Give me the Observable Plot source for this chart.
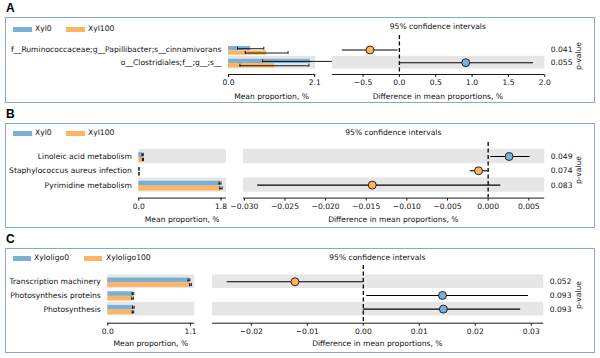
<!DOCTYPE html>
<html><head><meta charset="utf-8">
<script src="https://cdn.jsdelivr.net/npm/d3@7"></script>
<script src="https://cdn.jsdelivr.net/npm/@observablehq/plot@0.6"></script>
<style>
body{margin:0;background:#fff;}
#root{position:relative;width:600px;height:358px;overflow:hidden;font-family:"DejaVu Sans",sans-serif;font-size:7.6px;color:#111;}
.abs{position:absolute;white-space:nowrap;line-height:1;}
.box{position:absolute;border:1.5px solid #8aa5d4;box-sizing:border-box;}
.letter{position:absolute;font-family:"Liberation Sans",Arial,sans-serif;font-weight:bold;font-size:12px;line-height:12px;color:#000;}
svg{position:absolute;}
</style></head><body><div id="root"></div>
<script>
// ---------- Panel A data ----------
const groupsA = ["Xyl0", "Xyl100"];
const featuresA = ["f__Ruminococcaceae;g__Papillibacter;s__cinnamivorans", "o__Clostridiales;f__;g__;s__"];
const mean0A = [0.54, 2.00];
const sd0A = [0.32, 1.17];
const mean1A = [0.93, 1.12];
const sd1A = [0.52, 0.84];
const diffA = [-0.405, 0.913];
const ciLoA = [-0.785, 0.003];
const ciHiA = [-0.02, 1.845];
const pvalA = [0.041, 0.055];
const barTicksA = [0, 2.1];
const diffTicksA = [-0.5, 0, 0.5, 1, 1.5, 2];

// ---------- Panel B data ----------
const groupsB = ["Xyl0", "Xyl100"];
const featuresB = ["Linoleic acid metabolism", "Staphylococcus aureus infection", "Pyrimidine metabolism"];
const mean0B = [0.085, 0.004, 1.78];
const sd0B = [0.012, 0.002, 0.02];
const mean1B = [0.09, 0.005, 1.80];
const sd1B = [0.012, 0.002, 0.025];
const diffB = [0.00258, -0.00118, -0.01426];
const ciLoB = [0.00033, -0.0022, -0.02836];
const ciHiB = [0.00517, 0.0, 0.00156];
const pvalB = [0.049, 0.074, 0.083];
const barTicksB = [0, 1.8];
const diffTicksB = [-0.03, -0.025, -0.02, -0.015, -0.01, -0.005, 0, 0.005];

// ---------- Panel C data ----------
const groupsC = ["Xyloligo0", "Xyloligo100"];
const featuresC = ["Transcription machinery", "Photosynthesis proteins", "Photosynthesis"];
const mean0C = [1.08, 0.335, 0.34];
const sd0C = [0.012, 0.01, 0.01];
const mean1C = [1.10, 0.33, 0.335];
const sd1C = [0.012, 0.01, 0.01];
const diffC = [-0.0122, 0.01414, 0.0143];
const ciLoC = [-0.0243, 0.0006, 0.0];
const ciHiC = [0.0, 0.0295, 0.0281];
const pvalC = [0.052, 0.093, 0.093];
const barTicksC = [0, 1.1];
const diffTicksC = [-0.02, -0.01, 0, 0.01, 0.02, 0.03];

// ---------- styling / layout ----------
const BLUE = "#7bafd4", ORANGE = "#fdb462", BAND = "#e6e6e6";
const root = document.getElementById("root");

function div(cls, css, text) {
  const d = document.createElement("div");
  d.className = cls;
  Object.assign(d.style, css);
  if (text != null) d.textContent = text;
  root.appendChild(d);
  return d;
}
function label(text, x, y, anchor, extra) {
  const tx = anchor === "middle" ? "-50%" : anchor === "end" ? "-100%" : "0";
  return div("abs", Object.assign({left: x + "px", top: y + "px", transform: `translate(${tx},-50%)`}, extra || {}), text);
}

const panels = [
  {letter: "A", letterTop: 2, box: [16.5, 103], legendY: 29, swatch: [[12.5, 19, 35], [66, 19, 88]],
   groups: groupsA, features: featuresA, m0: mean0A, s0: sd0A, m1: mean1A, s1: sd1A,
   diff: diffA, lo: ciLoA, hi: ciHiA, p: pvalA, barTicks: barTicksA, diffTicks: diffTicksA, fmt: ".1f",
   L: {x0: 228, x1: 315, y0: 35, y1: 74, xmax: 2.12, ytop: -1.14, ybot: 1.93},
   R: {x0: 331.7, x1: 544, xmin: -0.92, xmax: 2.0},
   titleY: 27, xlabelY: 97, pY: 55.5},
  {letter: "B", letterTop: 107.5, box: [122.5, 227.5], legendY: 133.3, swatch: [[12.5, 19, 35], [66, 19, 88]],
   groups: groupsB, features: featuresB, m0: mean0B, s0: sd0B, m1: mean1B, s1: sd1B,
   diff: diffB, lo: ciLoB, hi: ciHiB, p: pvalB, barTicks: barTicksB, diffTicks: diffTicksB, fmt: ".3f",
   L: {x0: 138.3, x1: 226, y0: 141.7, y1: 197.3, xmax: 1.92, ytop: -0.98, ybot: 2.91},
   R: {x0: 242.7, x1: 544, xmin: -0.0301, xmax: 0.00697},
   titleY: 133.3, xlabelY: 220, pY: 170},
  {letter: "C", letterTop: 233, box: [248, 352.5], legendY: 258.3, swatch: [[12.5, 18, 34], [84, 18, 106]],
   groups: groupsC, features: featuresC, m0: mean0C, s0: sd0C, m1: mean1C, s1: sd1C,
   diff: diffC, lo: ciLoC, hi: ciHiC, p: pvalC, barTicks: barTicksC, diffTicks: diffTicksC, fmt: ".2f",
   L: {x0: 107.3, x1: 194.3, y0: 265, y1: 322.7, xmax: 1.157, ytop: -1.19, ybot: 3.03},
   R: {x0: 211.7, x1: 543, xmin: -0.02693, xmax: 0.03223},
   titleY: 258.3, xlabelY: 344.3, pY: 295}
];

const svgStyle = {background: "transparent", overflow: "visible", fontFamily: "DejaVu Sans, sans-serif", fontSize: "7.6px", color: "#111"};

for (const P of panels) {
  div("letter", {left: "6px", top: P.letterTop + "px"}, P.letter);
  div("box", {left: "5px", top: P.box[0] + "px", width: "590px", height: (P.box[1] - P.box[0]) + "px"});
  // legend
  [BLUE, ORANGE].forEach((c, k) => {
    const [sx, sw, tx] = P.swatch[k];
    div("abs", {left: sx + "px", top: (P.legendY - 2.5) + "px", width: sw + "px", height: "5px", background: c});
    label(P.groups[k], tx, P.legendY, "start");
  });

  const n = P.features.length;
  const rows = d3.range(n);
  const bandRows = rows.filter(i => (n - 1 - i) % 2 === 0);
  const L = P.L, R = P.R;
  const mt = 4, mb = 22;

  // ----- left: mean proportion bars -----
  const mlL = L.x0 - 6, mrL = 10;
  const caps = [];
  rows.forEach(i => {
    caps.push({x: P.m0[i] - P.s0[i], y: i - 0.1}, {x: P.m0[i] + P.s0[i], y: i - 0.1});
    caps.push({x: P.m1[i] - P.s1[i], y: i + 0.24}, {x: P.m1[i] + P.s1[i], y: i + 0.24});
  });
  const left = Plot.plot({
    width: L.x1 - L.x0 + mlL + mrL, height: L.y1 - L.y0 + mt + mb,
    marginLeft: mlL, marginRight: mrL, marginTop: mt, marginBottom: mb,
    style: svgStyle,
    x: {domain: [0, L.xmax], ticks: P.barTicks, tickFormat: d3.format(".1f"), tickSize: 3, tickPadding: 2, label: null},
    y: {domain: [L.ytop, L.ybot], reverse: true, ticks: rows, tickFormat: i => P.features[i], tickSize: 0, tickPadding: 7, label: null},
    marks: [
      Plot.rect(bandRows, {x1: 0, x2: L.xmax, y1: i => i - 0.5, y2: i => i + 0.5, fill: BAND}),
      Plot.rect(rows, {x1: 0, x2: i => P.m0[i], y1: i => i - 0.27, y2: i => i + 0.07, fill: BLUE}),
      Plot.rect(rows, {x1: 0, x2: i => P.m1[i], y1: i => i + 0.07, y2: i => i + 0.41, fill: ORANGE}),
      Plot.ruleY(rows, {y: i => i - 0.1, x1: i => P.m0[i] - P.s0[i], x2: i => P.m0[i] + P.s0[i], stroke: "#000", strokeWidth: 0.9}),
      Plot.ruleY(rows, {y: i => i + 0.24, x1: i => P.m1[i] - P.s1[i], x2: i => P.m1[i] + P.s1[i], stroke: "#000", strokeWidth: 0.9}),
      Plot.ruleX(caps, {x: "x", y1: d => d.y - 0.12, y2: d => d.y + 0.12, stroke: "#000", strokeWidth: 0.9}),
      Plot.ruleY([L.ybot], {stroke: "#000", strokeWidth: 0.9})
    ]
  });
  Object.assign(left.style, {left: (L.x0 - mlL) + "px", top: (L.y0 - mt) + "px"});
  root.appendChild(left);

  // ----- right: difference with 95% CI -----
  const mlR = 2, mrR = 40;
  const right = Plot.plot({
    width: R.x1 - R.x0 + mlR + mrR, height: L.y1 - L.y0 + mt + mb,
    marginLeft: mlR, marginRight: mrR, marginTop: mt, marginBottom: mb,
    style: svgStyle,
    color: {type: "identity"},
    x: {domain: [R.xmin, R.xmax], ticks: P.diffTicks, tickFormat: d3.format(P.fmt), tickSize: 3, tickPadding: 2, label: null},
    y: {domain: [L.ytop, L.ybot], reverse: true, axis: "right", ticks: rows, tickFormat: i => d3.format(".3f")(P.p[i]), tickSize: 0, tickPadding: 6, label: null},
    marks: [
      Plot.frame({fill: "white", stroke: null}),
      Plot.rect(bandRows, {x1: R.xmin, x2: R.xmax, y1: i => i - 0.5, y2: i => i + 0.5, fill: BAND}),
      Plot.ruleX([0], {stroke: "#000", strokeWidth: 1.3, strokeDasharray: "4,2.5"}),
      Plot.ruleY(rows, {y: i => i, x1: i => P.lo[i], x2: i => P.hi[i], stroke: "#000", strokeWidth: 1.1}),
      Plot.dot(rows, {x: i => P.diff[i], y: i => i, r: 4, fill: i => P.diff[i] > 0 ? BLUE : ORANGE, stroke: "#000", strokeWidth: 0.8}),
      Plot.ruleY([L.ybot], {stroke: "#000", strokeWidth: 0.9})
    ]
  });
  Object.assign(right.style, {left: (R.x0 - mlR) + "px", top: (L.y0 - mt) + "px"});
  root.appendChild(right);

  // texts
  label("95% confidence intervals", (R.x0 + R.x1) / 2, P.titleY, "middle");
  label("Mean proportion, %", (L.x0 + L.x1) / 2, P.xlabelY, "middle");
  label("Difference in mean proportions, %", (R.x0 + R.x1) / 2, P.xlabelY, "middle");
  div("abs", {left: "579px", top: P.pY + "px", transform: "translate(-50%,-50%) rotate(-90deg)"}, "p-value");
}
</script></body></html>
